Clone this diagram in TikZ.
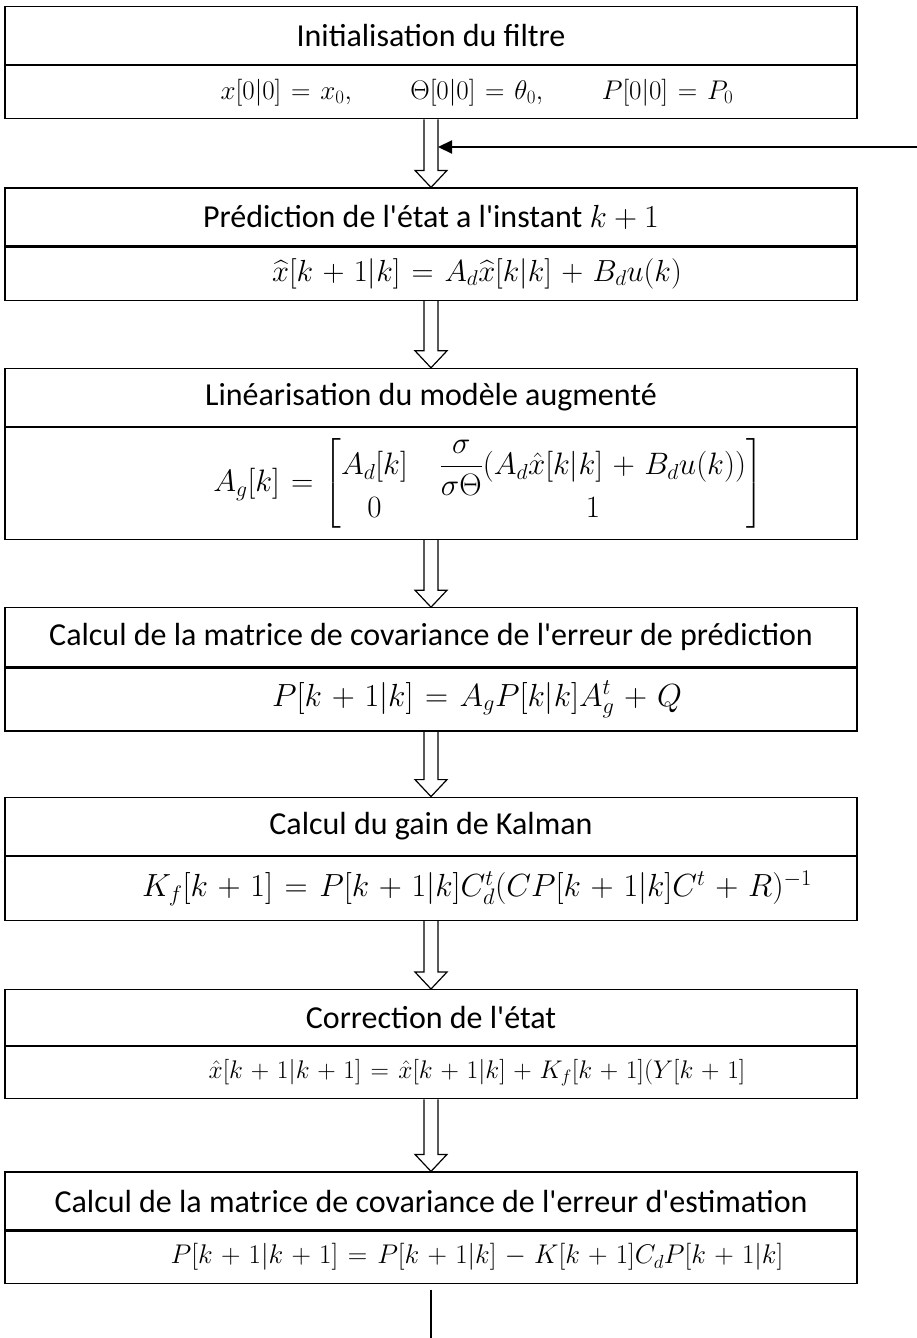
\RequirePackage{fix-cm}
\documentclass[tikz,border=0pt]{standalone}
\usepackage{amsmath}
\usepackage{fontspec}
\newfontfamily\calibfont{Carlito}
\usetikzlibrary{arrows.meta,calc,positioning}

\begin{document}
\begin{tikzpicture}[x=1pt, y=1pt,
  head/.style={draw, line width=1.2pt, minimum width=852pt, inner sep=0pt,
               font=\calibfont\fontsize{32}{38}\selectfont},
  body/.style={draw, line width=1.2pt, minimum width=852pt, inner sep=0pt,
               execute at begin node={\medmuskip=5.5mu\relax\thickmuskip=6.5mu\relax}},
  eqsize/.style={font=\fontsize{#1}{#1}\selectfont},
  hollow/.style={line width=1.2pt, line join=miter},
  fb/.style={-{Triangle[length=14pt, width=13pt]}, line width=2.2pt},
]
\useasboundingbox (0,0) rectangle (917,-1338);

% Box 1: initialisation
\node[head, minimum height=58pt, anchor=north] (t1) at (431,-6) {Initialisation du filtre};
\node[body, eqsize=27, minimum height=53pt, below=0pt of t1] (f1)
  {\hspace*{92pt}$x[0|0]=x_0,\qquad \Theta[0|0]=\theta_0,\qquad P[0|0]=P_0$};

% Box 2: prediction
\node[head, minimum height=58pt, below=68pt of f1] (t2) {Prédiction de l'état a l'instant $k+1$};
\node[body, eqsize=30.5, minimum height=53pt, below=0pt of t2] (f2)
  {\hspace*{92pt}$\widehat{x}[k+1|k]=A_d\widehat{x}[k|k]+B_du(k)$};

% Box 3: linearisation
\node[head, minimum height=58pt, below=67pt of f2] (t3) {Linéarisation du modèle augmenté};
\node[body, eqsize=31, minimum height=112pt, below=0pt of t3] (f3)
  {\hspace*{114pt}$\arraycolsep=16pt A_g[k]=\begin{bmatrix} A_d[k] & \dfrac{\sigma}{\sigma\Theta}(A_d\hat{x}[k|k]+B_du(k))\\ 0 & 1\end{bmatrix}$};

% Box 4: prediction covariance
\node[head, minimum height=59pt, below=67pt of f3] (t4)
  {Calcul de la matrice de covariance de l'erreur de prédiction};
\node[body, eqsize=32, minimum height=63pt, below=0pt of t4] (f4)
  {\hspace*{92pt}$P[k+1|k]=A_gP[k|k]A_g^t+Q$};

% Box 5: Kalman gain
\node[head, minimum height=58pt, below=65pt of f4] (t5) {Calcul du gain de Kalman};
\node[body, eqsize=32, minimum height=64pt, below=0pt of t5] (f5)
  {\hspace*{92pt}$K_f[k+1]=P[k+1|k]C_d^t(CP[k+1|k]C^t+R)^{-1}$};

% Box 6: state correction
\node[head, minimum height=56pt, below=68pt of f5] (t6) {Correction de l'état};
\node[body, eqsize=25.5, minimum height=52pt, below=0pt of t6] (f6)
  {\hspace*{92pt}$\hat{x}[k+1|k+1]=\hat{x}[k+1|k]+K_f[k+1](Y[k+1]$};

% Box 7: estimation covariance
\node[head, minimum height=58pt, below=72pt of f6] (t7)
  {Calcul de la matrice de covariance de l'erreur d'estimation};
\node[body, eqsize=27, minimum height=52pt, below=0pt of t7] (f7)
  {\hspace*{92pt}$P[k+1|k+1]=P[k+1|k]-K[k+1]C_dP[k+1|k]$};

% hollow arrows between the boxes
\foreach \a/\b in {f1/t2, f2/t3, f3/t4, f4/t5, f5/t6, f6/t7}
  \draw[hollow] ($(\a.south)+(-7,0)$) -- ($(\b.north)+(-7,17)$) -- ($(\b.north)+(-16,17)$)
    -- (\b.north) -- ($(\b.north)+(16,17)$) -- ($(\b.north)+(7,17)$) -- ($(\a.south)+(7,0)$);

% feedback loop
\coordinate (join) at ($(f1.south)!0.44!(t2.north)+(7,0)$);
\coordinate (loop) at (917,-147);
\draw[fb] (loop) -- (loop -| join);

% output
\coordinate (out) at (431,-1338);
\draw[line width=1.2pt, shorten <=6pt] (f7.south) -- (out);

\end{tikzpicture}
\end{document}
